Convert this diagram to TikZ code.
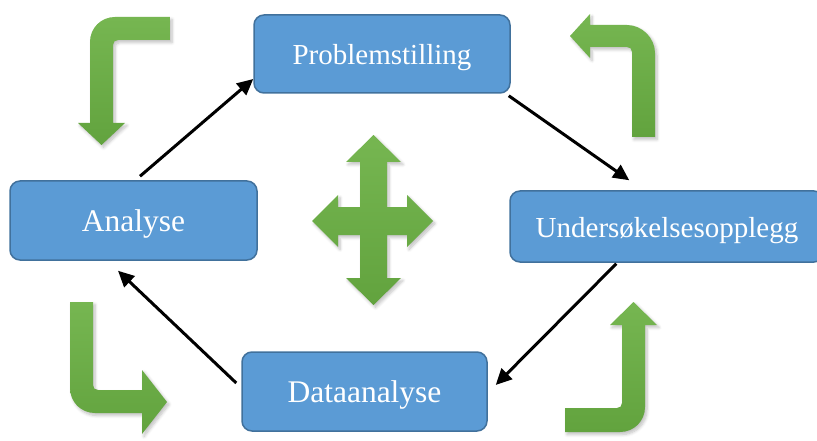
\documentclass[tikz,border=0pt]{standalone}
\usepackage{fontspec}
\setmainfont{Liberation Serif}
\usetikzlibrary{arrows.meta,calc,shadows.blur}
\definecolor{boxfill}{HTML}{5B9BD5}
\definecolor{boxline}{HTML}{41719C}
\definecolor{gtop}{HTML}{76B651}
\definecolor{gbot}{HTML}{62A33E}
\begin{document}
\begin{tikzpicture}[x=1pt,y=-1pt,
 box/.style={draw=boxline, line width=1.5pt, fill=boxfill, rounded corners=10pt, text=white,
   font=\fontsize{29}{34}\selectfont, inner sep=0pt, text height=25pt, text depth=4pt},
 bigtext/.style={font=\fontsize{31.5}{36}\selectfont, text height=26pt},
 conn/.style={line width=3pt, -{Triangle[length=16pt,width=15pt]}},
 garrow/.style={top color=gtop, bottom color=gbot, draw=none,
   blur shadow={shadow xshift=2pt, shadow yshift=-2.5pt, shadow opacity=25, shadow blur steps=6, shadow blur radius=3pt}}]
\useasboundingbox (0,0) rectangle (817,441);

% boxes
\node[box, minimum width=256pt, minimum height=78pt] (P) at (382,54) {Problemstilling};
\node[box, bigtext, minimum width=247pt, minimum height=79pt] (A) at (133.5,220.5) {Analyse};
\node[box, minimum width=314pt, minimum height=71pt] (U) at (667,226.5) {Undersøkelsesopplegg};
\node[box, bigtext, minimum width=245pt, minimum height=79pt] (D) at (364.5,391.5) {Dataanalyse};

% connectors
\draw[conn] ([xshift=6.5pt,yshift=4pt]A.north) -- ([yshift=-25pt]P.west);
\draw[conn] ([xshift=-2pt,yshift=-2pt]P.south east) -- ([xshift=120pt,yshift=10pt]U.north west);
\draw[conn] ([xshift=107pt,yshift=-1pt]U.south west) -- ([xshift=8pt,yshift=6.5pt]D.east);
\draw[conn] ([xshift=-5pt,yshift=8.5pt]D.west) -- ([xshift=-15.5pt,yshift=-10pt]A.south);

% green bent arrows
% top-left
\path[garrow] (170,17) -- (115,17) .. controls (101,17) and (90,28) .. (90,42)
  -- (90,123) -- (78,123) -- (101.5,145) -- (125,123) -- (113,123) -- (113,45)
  .. controls (113,42) and (115,40) .. (118,40) -- (170,40) -- cycle;
% top-right
\path[garrow] (655,137) -- (655,53) .. controls (655,38) and (642,25) .. (627,25)
  -- (590,25) -- (590,14) -- (570,36) -- (590,58) -- (590,47) -- (627,47)
  .. controls (630,47) and (632,49) .. (632,52) -- (632,137) -- cycle;
% bottom-left
\path[garrow] (70,302) -- (70,388) .. controls (70,402) and (81,413) .. (95,413)
  -- (142,413) -- (142,434) -- (167,402) -- (142,370) -- (142,390) -- (98,390)
  .. controls (95,390) and (93,388) .. (93,385) -- (93,302) -- cycle;
% bottom-right
\path[garrow] (565,408) -- (617,408) .. controls (620,408) and (622,406) .. (622,403)
  -- (622,325) -- (610,325) -- (633.5,302) -- (657,325) -- (645,325) -- (645,407)
  .. controls (645,421) and (634,432) .. (620,432) -- (565,432) -- cycle;

% four-way arrow
\path[garrow] (360,162) -- (346,162) -- (373.5,135) -- (401,162) -- (387,162)
  -- (387,207) -- (407,207) -- (407,195) -- (433,221) -- (407,247) -- (407,235)
  -- (387,235) -- (387,278) -- (401,278) -- (373.5,305) -- (346,278) -- (360,278)
  -- (360,235) -- (338,235) -- (338,247) -- (312,221) -- (338,195) -- (338,207)
  -- (360,207) -- cycle;
\end{tikzpicture}
\end{document}
